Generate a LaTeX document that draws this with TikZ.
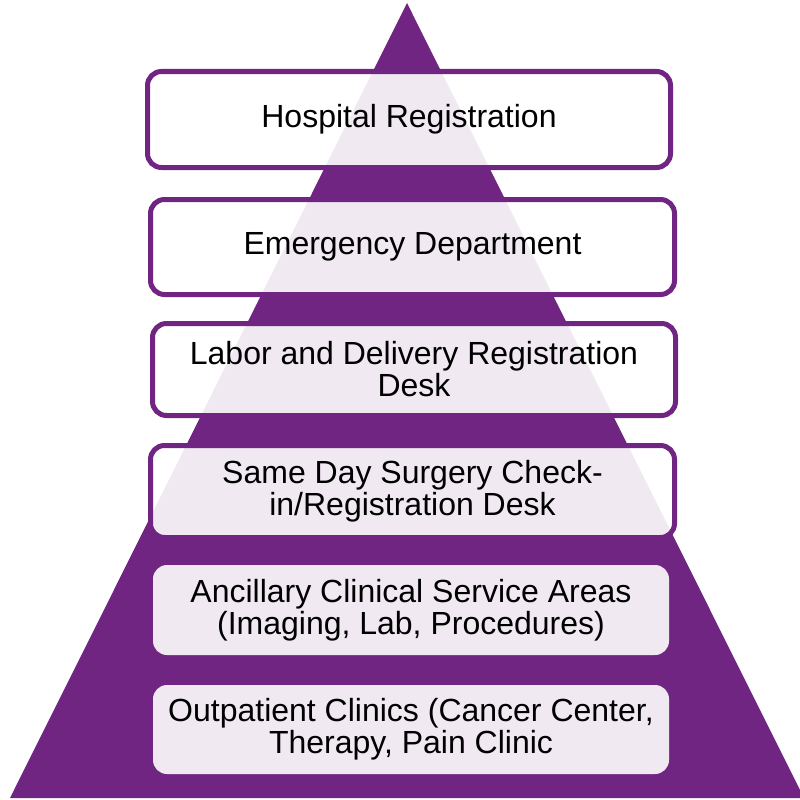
\documentclass[tikz,border=0pt]{standalone}
\usepackage{fontspec}
\setmainfont{Liberation Sans}
\definecolor{pyr}{RGB}{112,37,131}
\begin{document}
\begin{tikzpicture}[x=1pt,y=-1pt,
  tier/.style={rectangle, rounded corners=14pt, fill=white, fill opacity=0.9, text opacity=1,
    inner sep=0pt, align=center, font=\fontsize{32}{32}\selectfont, text=black},
  framed/.style={tier, draw=pyr, draw opacity=1, line width=5pt},
  plain/.style={tier}]
\useasboundingbox (0,0) rectangle (800,800);
\clip (0,0) rectangle (800,800);
\fill[pyr] (407,3) coordinate (apex) -- (10,798) coordinate (bl) -- (804,798) coordinate (br) -- cycle;
\node[framed, minimum width=523pt, minimum height=96pt] (b1) at (409,119.5) {Hospital Registration};
\node[framed, minimum width=524pt, minimum height=95pt] (b2) at (412.5,247) {Emergency Department};
\node[framed, minimum width=523pt, minimum height=92pt] (b3) at (414,369.5) {Labor and Delivery Registration\\Desk};
\node[framed, minimum width=524pt, minimum height=92pt] (b4) at (412.5,491.5) {Same Day Surgery Check-\\in/Registration Desk};
\node[plain, minimum width=516pt, minimum height=90pt] (b5) at (411,610) {Ancillary Clinical Service Areas\\(Imaging, Lab, Procedures)};
\node[plain, minimum width=516pt, minimum height=89pt] (b6) at (411,729.5) {Outpatient Clinics (Cancer Center,\\Therapy, Pain Clinic};
\end{tikzpicture}
\end{document}
